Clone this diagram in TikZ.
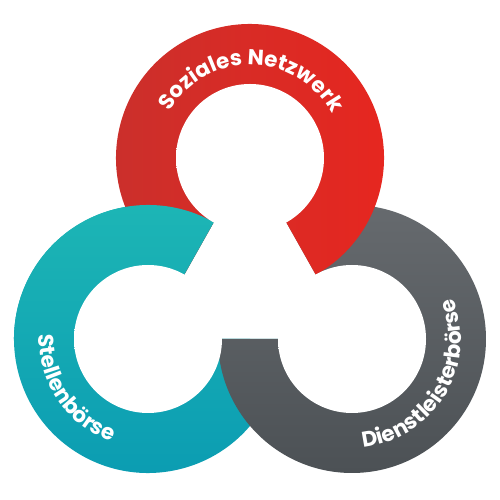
\documentclass[tikz,border=0pt]{standalone}
\usepackage{fontspec}
\usetikzlibrary{decorations.text,calc}
\newfontfamily\ringfont{Poppins}
\definecolor{redA}{HTML}{C9302C}
\definecolor{redB}{HTML}{E8261F}
\definecolor{tealA}{HTML}{1EB7B5}
\definecolor{tealB}{HTML}{0A9BB2}
\definecolor{grayA}{HTML}{666A6E}
\definecolor{grayB}{HTML}{4C5155}
\pgfdeclareradialshading{innershadow}{\pgfpoint{0bp}{0bp}}{color(0bp)=(white); color(34bp)=(white); color(44bp)=(black!8); color(50bp)=(black!38)}
\tikzset{
  red ring/.style={left color=redA, right color=redB},
  teal ring/.style={top color=tealA, bottom color=tealB},
  gray ring/.style={top color=grayA, bottom color=grayB},
  hole/.style={shading=innershadow},
  ring label/.style={decorate, decoration={text along path, text align=center,
      text color=white, text={|\ringfont\bfseries\fontsize{21.5}{21.5}\selectfont|#1}}}
}
\begin{document}
\begin{tikzpicture}[x=1pt,y=1pt]
\useasboundingbox (0,0) rectangle (500,500);
\coordinate (cR) at (250,342);
\coordinate (cT) at (148,161);
\coordinate (cG) at (352,161);
% teal ring (bottom layer)
\path[teal ring] (cT) -- ++(60.6:134) arc[start angle=60.6,end angle=360,radius=134] -- cycle;
% gray ring over teal
\path[gray ring] (cG) -- ++(180:134) arc[start angle=180,end angle=479.4,radius=134] -- cycle;
% red ring over gray
\path[red ring] (cR) -- ++(-60.6:134) arc[start angle=-60.6,end angle=240.6,radius=134] -- cycle;
% teal again over red (upper left overlap)
\begin{scope}
  \clip (0,161) rectangle (250,500);
  \path[teal ring] (cT) -- ++(60.6:134) arc[start angle=60.6,end angle=360,radius=134] -- cycle;
\end{scope}
% holes
\path[hole] (cR) circle[radius=74];
\path[hole] (cT) circle[radius=74];
\path[hole] (cG) circle[radius=74];
% labels
\path[ring label={Soziales Netzwerk}] ($(cR)+(165:93)$) arc[start angle=165,end angle=13,radius=93];
\path[ring label={Stellenbörse}] ($(cT)+(155:109)$) arc[start angle=155,end angle=273,radius=109];
\path[ring label={Dienstleisterbörse}] ($(cG)+(255:109)$) arc[start angle=255,end angle=403,radius=109];
\end{tikzpicture}
\end{document}
